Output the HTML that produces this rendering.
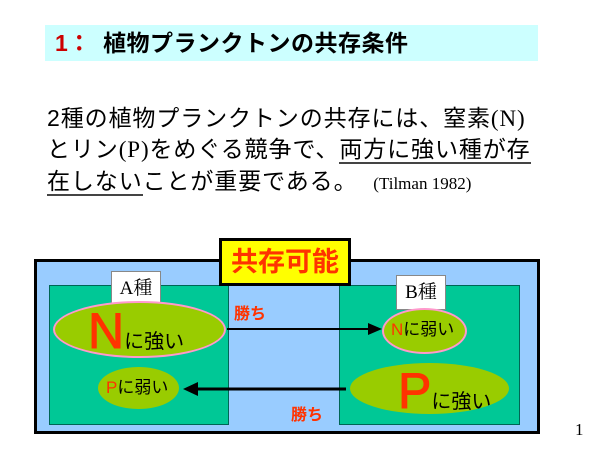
<!DOCTYPE html>
<html><head><meta charset="utf-8"><style>
body{margin:0;width:600px;height:450px;background:#fff;position:relative;overflow:hidden;font-family:"Liberation Sans","Noto Sans CJK JP",sans-serif}
.a{position:absolute;white-space:nowrap}
.t{font-size:23px;color:#000;line-height:31px;left:47px;letter-spacing:0.9px}
u{text-decoration:none;border-bottom:2px solid #444}
.e{position:absolute;border-radius:50%;background:#99cc00;box-sizing:border-box}
.r{color:#ff3300}
.s{font-family:"Liberation Serif",serif}
</style></head><body>
<div class="a" style="left:45px;top:25px;width:493px;height:36px;background:#ccffff"></div>
<div class="a" style="left:55px;top:29px;font-size:23px;font-weight:bold;color:#cc0000;line-height:28px">1：</div>
<div class="a" style="left:103px;top:29px;font-size:23px;font-weight:bold;line-height:28px;letter-spacing:0.5px">植物プランクトンの共存条件</div>

<div class="a t" style="top:103px">2種の植物プランクトンの共存には、窒素<span class="s">(N)</span></div>
<div class="a t" style="top:134px">とリン<span class="s">(P)</span>をめぐる競争で、<u>両方に強い種が存</u></div>
<div class="a t" style="top:166px"><u>在しない</u>ことが重要である。 <span class="s" style="font-size:17px;letter-spacing:0">&nbsp;&nbsp;(Tilman 1982)</span></div>

<div class="a" style="left:34px;top:259px;width:506px;height:175px;background:#99ccff;border:3px solid #000;box-sizing:border-box"></div>
<div class="a" style="left:49px;top:285px;width:180px;height:140px;background:#00c896;border:1px solid #006655;box-sizing:border-box"></div>
<div class="a" style="left:339px;top:285px;width:181px;height:140px;background:#00c896;border:1px solid #006655;box-sizing:border-box"></div>
<div class="a" style="left:219px;top:238px;width:132px;height:48px;background:#ffff00;border:3px solid #000;box-sizing:border-box;text-align:center;font-size:27px;font-weight:bold;color:#ff3300;line-height:42px">共存可能</div>

<div class="a" style="left:111px;top:271px;width:50px;height:35px;background:#fff;border:1px solid #888;box-sizing:border-box;text-align:center;font-family:'Liberation Serif','Noto Serif CJK SC',serif;font-size:19px;line-height:33px">A種</div>
<div class="a" style="left:396px;top:275px;width:50px;height:35px;background:#fff;border:1px solid #888;box-sizing:border-box;text-align:center;font-family:'Liberation Serif','Noto Serif CJK SC',serif;font-size:19px;line-height:33px">B種</div>

<div class="e" style="left:53px;top:301px;width:173px;height:57px;border:2px solid #ff99cc"></div>
<div class="a" style="left:88px;top:305px;font-size:50px;line-height:52px" ><span class="r" style="-webkit-text-stroke:1px #ff3300">N</span><span style="font-size:20px">に強い</span></div>
<div class="e" style="left:382px;top:308px;width:85px;height:46px;border:2px solid #ff99cc"></div>
<div class="a" style="left:391px;top:319px;font-size:17px;line-height:22px"><span class="r">N</span>に弱い</div>
<div class="e" style="left:98px;top:367px;width:81px;height:42px"></div>
<div class="a" style="left:106px;top:377px;font-size:17px;line-height:22px"><span class="r">P</span>に弱い</div>
<div class="e" style="left:350px;top:363px;width:159px;height:51px"></div>
<div class="a" style="left:398px;top:365px;font-size:50px;line-height:52px"><span class="r" style="-webkit-text-stroke:1px #ff3300">P</span><span style="font-size:20px">に強い</span></div>

<div class="a r" style="left:234px;top:300px;font-size:16px;font-weight:bold">勝ち</div>
<div class="a r" style="left:291px;top:401px;font-size:16px;font-weight:bold">勝ち</div>

<svg class="a" style="left:0;top:0" width="600" height="450">
<line x1="227" y1="329" x2="370" y2="329" stroke="#000" stroke-width="2"/>
<polygon points="382,329 368,323 368,335" fill="#000"/>
<line x1="346" y1="389" x2="196" y2="389" stroke="#000" stroke-width="3"/>
<polygon points="183,389 198,382 198,396" fill="#000"/>
</svg>
<div class="a" style="left:575px;top:420px;font-family:'Liberation Serif',serif;font-size:17px">1</div>
</body></html>
